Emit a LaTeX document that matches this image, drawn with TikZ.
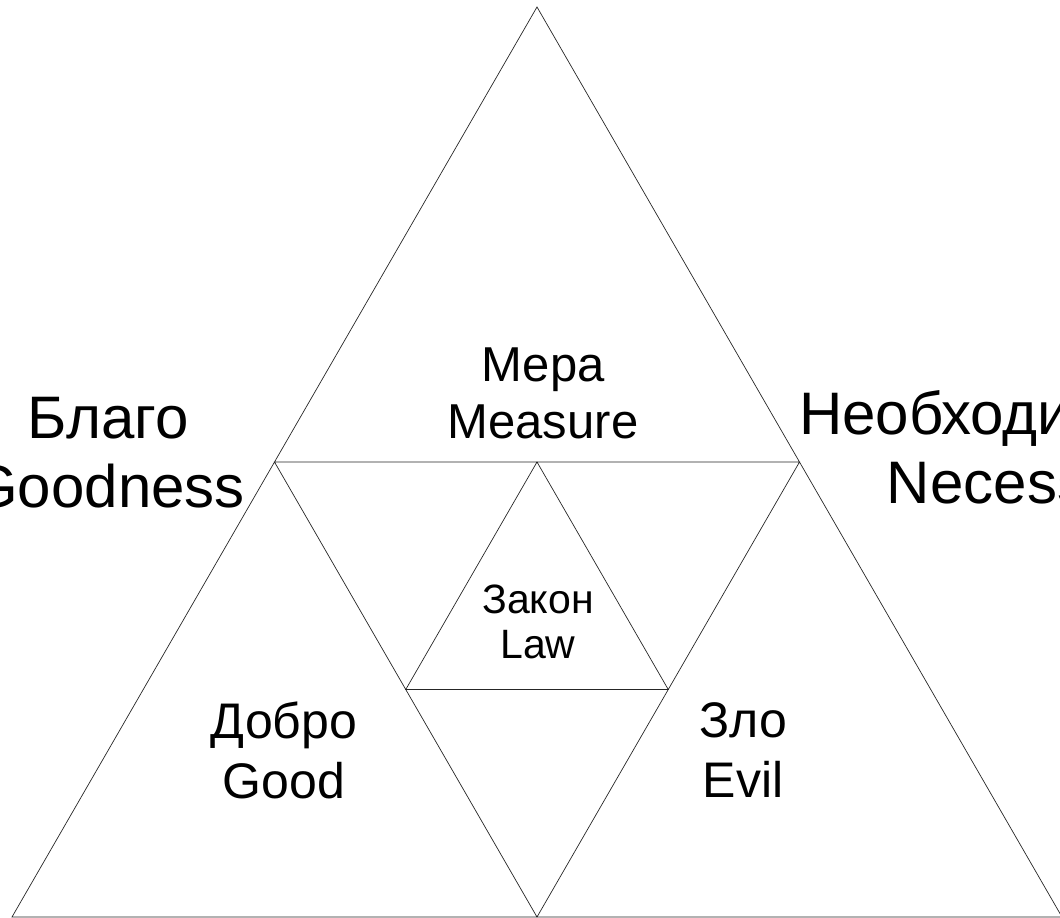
\documentclass[tikz,border=0pt]{standalone}
\usepackage{fontspec}
\setmainfont{Liberation Sans}
\begin{document}
\begin{tikzpicture}[x=1pt,y=-1pt,line width=0.7pt,
	lbl/.style={align=center,inner sep=0pt}]
	\useasboundingbox (0,0) rectangle (1060,918);
	\clip (0,0) rectangle (1060,918);
	\path (537,7) coordinate (T)
	(12,917) coordinate (L)
	(1062,917) coordinate (R)
	(274.5,462) coordinate (TL)
	(799.5,462) coordinate (TR)
	(537,917) coordinate (LR)
	(537,462) coordinate (C)
	(405.75,689.5) coordinate (CL)
	(668.25,689.5) coordinate (CR);
	\draw[black!85] (T)--(L)--(R)--cycle
	(TL)--(TR)--(LR)--cycle
	(C)--(CL)--(CR)--cycle;
	\node[lbl,font=\fontsize{60}{69}\selectfont] (blago) at (108,453) {Благо\\Goodness};
	\node[lbl,font=\fontsize{60}{69}\selectfont] (neobh) at (1017,453) {Необходимость\\Necessity};
	\node[lbl,font=\fontsize{49}{57}\selectfont] (mera) at (543,393) {Мера\\Measure};
	\node[lbl,font=\fontsize{41}{45}\selectfont] (zakon) at (538,622) {Закон\\Law};
	\node[lbl,font=\fontsize{50}{60}\selectfont] (dobro) at (284,750) {Добро\\Good};
	\node[lbl,font=\fontsize{50}{60}\selectfont] (zlo) at (743,750) {Зло\\Evil};
\end{tikzpicture}
\end{document}
